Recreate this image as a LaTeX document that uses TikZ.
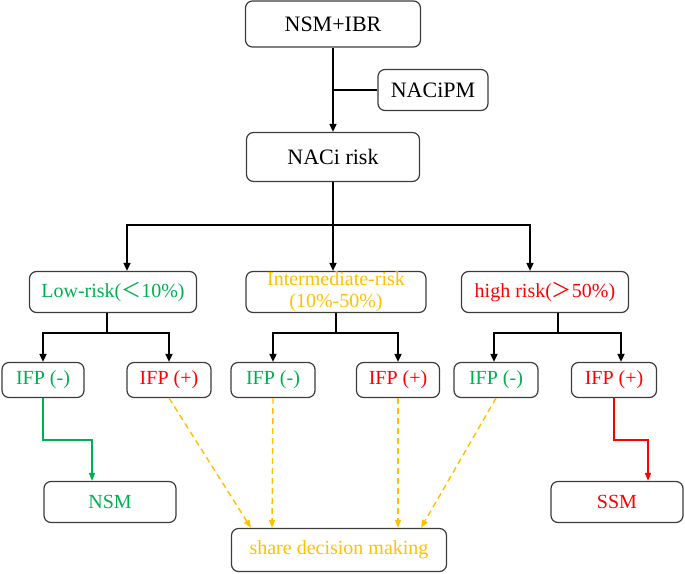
\documentclass[tikz,border=0pt]{standalone}
\usepackage{fontspec}
\setmainfont{Liberation Serif}
\newfontfamily\cjk{Noto Sans CJK SC}
\usetikzlibrary{arrows.meta,positioning}
\definecolor{lowgreen}{RGB}{0,176,80}
\definecolor{midyellow}{RGB}{255,192,0}
\definecolor{highred}{RGB}{255,0,0}
\definecolor{boxgray}{RGB}{60,60,60}

\tikzset{
  box/.style={draw=boxgray, line width=1.2pt, rounded corners=7pt, inner sep=0pt,
    align=center, font=\fontsize{20}{22}\selectfont},
  bigbox/.style={box, font=\fontsize{22}{24}\selectfont},
  ifp/.style={box, minimum width=84pt, minimum height=35pt},
  link/.style={line width=1.6pt, black},
  arr/.style={link, -{Triangle[length=8pt,width=7pt]}},
  garr/.style={line width=1.6pt, lowgreen, -{Triangle[length=8pt,width=6pt]}},
  rarr/.style={line width=1.6pt, highred, -{Triangle[length=8pt,width=6pt]}},
  yarr/.style={line width=1.4pt, midyellow, dash pattern=on 6pt off 4pt,
    -{Triangle[length=8pt,width=6pt]}}
}

\begin{document}
\begin{tikzpicture}[x=1pt,y=-1pt]
  \useasboundingbox (0,0) rectangle (685,573);

  % top part
  \node[bigbox, minimum width=175pt, minimum height=46pt] (nsmibr) at (333,24) {NSM+IBR};
  \node[bigbox, minimum width=110pt, minimum height=41pt] (pm) at (433,90) {NACiPM};
  \node[bigbox, minimum width=173pt, minimum height=49pt] (naci) at (333,157) {NACi risk};

  % risk groups
  \node[box, text=lowgreen, minimum width=167pt, minimum height=41pt] (low) at (113,292) {Low-risk({\cjk ＜}10\%)};
  \node[box, text=midyellow, minimum width=180pt, minimum height=41pt] (mid) at (336,292) {Intermediate-risk\\(10\%-50\%)};
  \node[box, text=highred, minimum width=167pt, minimum height=41pt] (high) at (545,292) {high risk({\cjk ＞}50\%)};

  % IFP results
  \node[ifp, text=lowgreen, minimum width=82pt] (ifpa) at (43,380) {IFP (-)};
  \node[ifp, text=highred] (ifpb) at (169,380) {IFP (+)};
  \node[ifp, text=lowgreen] (ifpc) at (273,380) {IFP (-)};
  \node[ifp, text=highred, minimum width=83pt] (ifpd) at (398,380) {IFP (+)};
  \node[ifp, text=lowgreen] (ifpe) at (496,380) {IFP (-)};
  \node[ifp, text=highred, minimum width=85pt] (ifpf) at (614,380) {IFP (+)};

  % outcomes
  \node[box, text=lowgreen, minimum width=132pt, minimum height=41pt] (nsm) at (110,502) {NSM};
  \node[box, text=midyellow, minimum width=215pt, minimum height=43pt] (sdm) at (339,550) {share decision making};
  \node[box, text=highred, minimum width=132pt, minimum height=41pt] (ssm) at (617,502) {SSM};

  % connectors
  \draw[arr] (nsmibr.south) -- (naci.north);
  \draw[link] (pm.west) -- (pm.west -| nsmibr.south);

  \coordinate (split) at (333,225);
  \draw[link] (naci.south) -- (split);
  \draw[arr] (split) -| ([xshift=14pt]low.north);
  \draw[arr] (split) -- (split |- mid.north);
  \draw[arr] (split) -| ([xshift=-15pt]high.north);

  \draw[arr] ([xshift=-6pt]low.south) -- ++(0,20) -| (ifpa.north);
  \draw[arr] ([xshift=-6pt]low.south) -- ++(0,20) -| (ifpb.north);
  \draw[arr] (mid.south) -- ++(0,20) -| (ifpc.north);
  \draw[arr] (mid.south) -- ++(0,20) -| (ifpd.north);
  \draw[arr] ([xshift=13pt]high.south) -- ++(0,20) -| ([xshift=-2pt]ifpe.north);
  \draw[arr] ([xshift=13pt]high.south) -- ++(0,20) -| ([xshift=7pt]ifpf.north);

  \draw[garr] (ifpa.south) -- ++(0,42) -| ([xshift=-18pt]nsm.north);
  \draw[rarr] (ifpf.south) -- ++(0,42) -| ([xshift=31pt]ssm.north);

  \draw[yarr] (ifpb.south) -- ([xshift=-88pt]sdm.north);
  \draw[yarr] (ifpc.south) -- ([xshift=-67pt]sdm.north);
  \draw[yarr] (ifpd.south) -- ([xshift=59pt]sdm.north);
  \draw[yarr] (ifpe.south) -- ([xshift=82pt]sdm.north);
\end{tikzpicture}
\end{document}
